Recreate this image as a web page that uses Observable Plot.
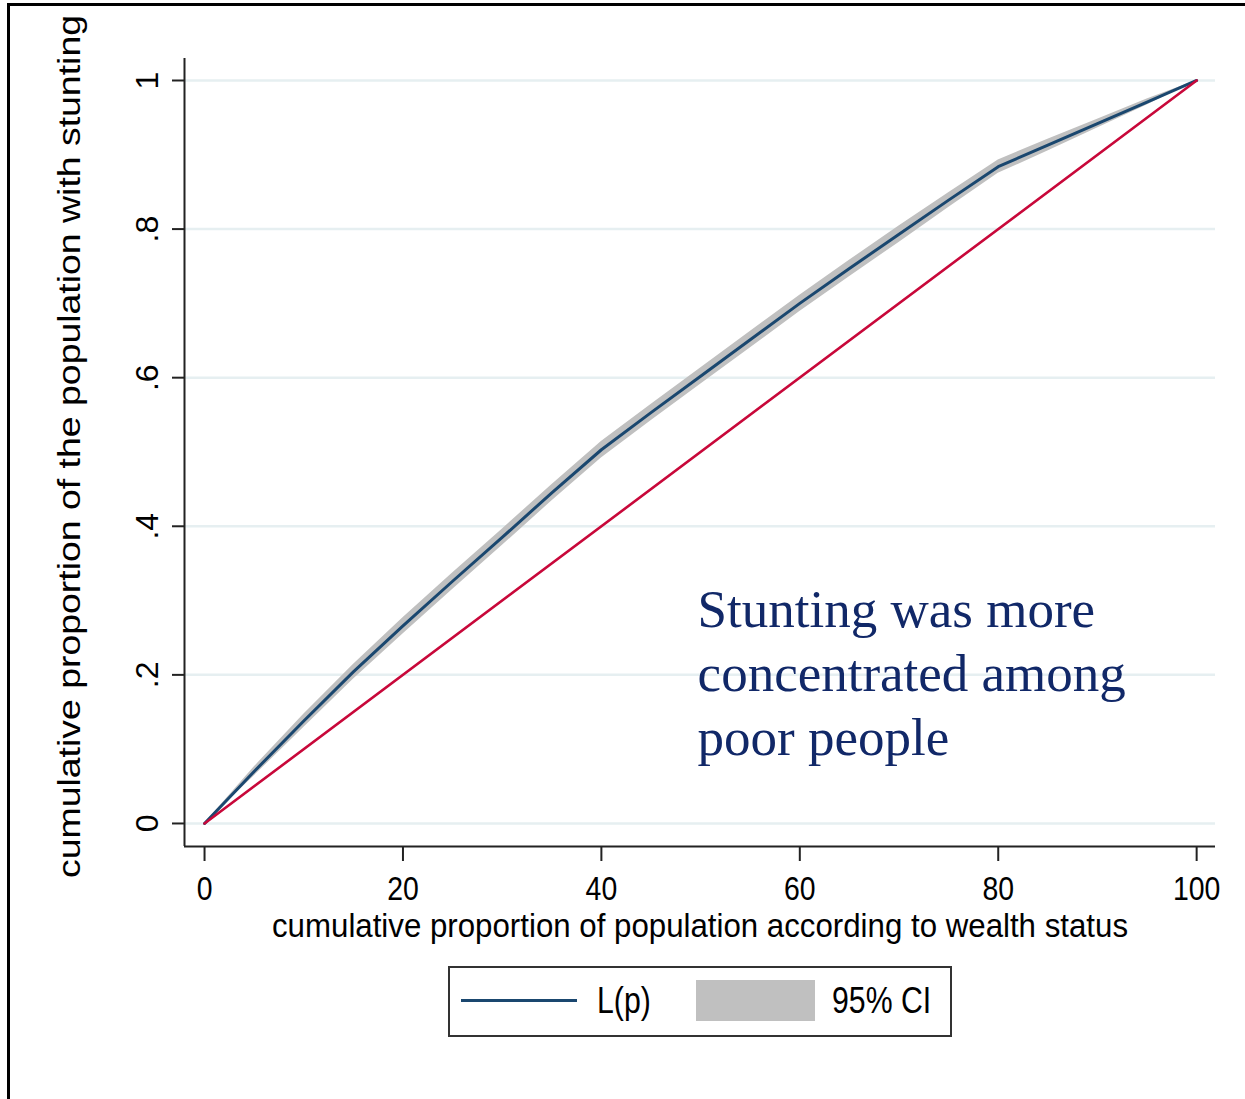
<!DOCTYPE html>
<html><head><meta charset="utf-8">
<script src="https://cdn.jsdelivr.net/npm/d3@7"></script>
<script src="https://cdn.jsdelivr.net/npm/@observablehq/plot@0.6"></script>
<style>
body{margin:0;background:#fff;}
#wrap{position:relative;width:1245px;height:1099px;overflow:hidden;background:#fff;}
#border{position:absolute;left:7px;top:3px;width:2000px;height:2000px;border-top:3.5px solid #000;border-left:3.5px solid #000;box-sizing:border-box;}
#chart{position:absolute;left:0;top:0;}
#legend{position:absolute;left:448px;top:966px;width:504px;height:71px;border:2px solid #333;box-sizing:border-box;font-family:"Liberation Sans",Arial,sans-serif;font-size:36px;line-height:36px;color:#000;background:#fff;}
#legend .sw-line{position:absolute;left:11px;top:31px;width:116px;height:3px;background:#1a476f;}
#legend .sw-area{position:absolute;left:246px;top:12px;width:119px;height:41px;background:#c0c0c0;}
#legend .lab{position:absolute;top:14.5px;white-space:nowrap;transform:scaleX(0.84);transform-origin:0 0;}
</style>
</head><body>
<div id="wrap">
  <div id="chart"></div>
  <div id="border"></div>
  <div id="legend">
    <div class="sw-line"></div><span class="lab" style="left:147px">L(p)</span>
    <div class="sw-area"></div><span class="lab" style="left:382px">95% CI</span>
  </div>
</div>
<script>
// ---- data ----
const p      = [0, 5, 10, 15, 20, 25, 30, 35, 40, 45, 50, 55, 60, 65, 70, 75, 80, 85, 90, 95, 100];
const Lp     = [0, 0.070, 0.138, 0.204, 0.266, 0.326, 0.385, 0.445, 0.503, 0.553, 0.602, 0.651, 0.700, 0.747, 0.793, 0.839, 0.884, 0.913, 0.942, 0.971, 1.0];
const ciLow  = [0, 0.064, 0.129, 0.194, 0.255, 0.315, 0.374, 0.434, 0.492, 0.542, 0.591, 0.640, 0.689, 0.736, 0.782, 0.829, 0.875, 0.905, 0.936, 0.967, 1.0];
const ciHigh = [0, 0.076, 0.147, 0.214, 0.277, 0.337, 0.396, 0.456, 0.514, 0.564, 0.613, 0.662, 0.711, 0.758, 0.804, 0.849, 0.893, 0.921, 0.948, 0.975, 1.0];
const eqX = [0, 100];
const eqY = [0, 1];
const xTicks = [0, 20, 40, 60, 80, 100];
const yTicks = [0, 0.2, 0.4, 0.6, 0.8, 1];
const yTickLabels = ["0", ".2", ".4", ".6", ".8", "1"];
const xTitle = "cumulative proportion of population according to wealth status";
const yTitle = "cumulative proportion of the population with stunting";
const note = {x: 49.7, y: 0.326, text: "Stunting was more\nconcentrated among\npoor people"};
const xDomain = [-2.02, 101.9];
const yDomain = [-0.031, 1.0296];

const curve = p.map((v, i) => ({p: v, L: Lp[i], lo: ciLow[i], hi: ciHigh[i]}));
const eq = eqX.map((v, i) => ({x: v, y: eqY[i]}));

const navy = "#1a476f", red = "#c8083a", axisCol = "#222";
const sans = "'Liberation Sans', Arial, sans-serif";

const chart = Plot.plot({
  width: 1245, height: 950,
  marginLeft: 184, marginRight: 30, marginTop: 58, marginBottom: 104,
  style: {fontFamily: sans, background: "transparent", overflow: "visible", color: "#000"},
  x: {domain: xDomain, label: null},
  y: {domain: yDomain, label: null},
  marks: [
    Plot.gridY(yTicks, {stroke: "#e6eff1", strokeOpacity: 1, strokeWidth: 2.5}),
    Plot.areaY(curve, {x: "p", y1: "lo", y2: "hi", fill: "#c0c0c0"}),
    Plot.line(curve, {x: "p", y: "L", stroke: navy, strokeWidth: 3}),
    Plot.line(eq, {x: "x", y: "y", stroke: red, strokeWidth: 2.6}),
    Plot.ruleX([xDomain[0]], {stroke: axisCol, strokeWidth: 2}),
    Plot.ruleY([yDomain[0]], {stroke: axisCol, strokeWidth: 2}),
    Plot.axisX(xTicks, {tickSize: 15, tickPadding: 15, stroke: axisCol, strokeWidth: 2, fontSize: 33, fill: "#000", label: null, tickFormat: d => String(d)}),
    Plot.axisY(yTicks, {tickSize: 12, stroke: axisCol, strokeWidth: 2, tickFormat: () => "", label: null}),
    Plot.text(yTicks, {y: d => d, text: (d, i) => yTickLabels[i], frameAnchor: "left", dx: -36.5, rotate: -90, textAnchor: "middle", lineAnchor: "middle", fontSize: 32, fill: "#000"}),
    Plot.text([xTitle], {text: d => d, frameAnchor: "bottom", dy: 67, lineAnchor: "top", textAnchor: "middle", fontSize: 33, fill: "#000"}),
    Plot.text([yTitle], {text: d => d, frameAnchor: "left", dx: -114, dy: -6, rotate: -90, lineAnchor: "middle", textAnchor: "middle", fontSize: 31, fill: "#000"}),
    Plot.text([note], {x: "x", y: "y", text: "text", textAnchor: "start", lineAnchor: "top", lineHeight: 1.21, fontSize: 53, fontFamily: "'Liberation Serif','Times New Roman',serif", fill: "#112868"})
  ]
});
document.getElementById("chart").appendChild(chart);

// emulate the horizontally condensed Stata text
const xLabelSet = new Set(xTicks.map(String));
chart.querySelectorAll("text").forEach(t => {
  const s = t.textContent;
  const rotated = (t.getAttribute("transform") || "").includes("rotate") ||
                  (t.parentNode.getAttribute && (t.parentNode.getAttribute("transform") || "").includes("rotate"));
  if (s === xTitle) {
    t.setAttribute("textLength", 856); t.setAttribute("lengthAdjust", "spacingAndGlyphs");
  } else if (s === yTitle) {
    t.setAttribute("textLength", 863); t.setAttribute("lengthAdjust", "spacingAndGlyphs");
  } else if (xLabelSet.has(s) && !rotated) {
    const w = t.getComputedTextLength();
    t.setAttribute("textLength", (w * 0.86).toFixed(1)); t.setAttribute("lengthAdjust", "spacingAndGlyphs");
  }
});
</script>
</body></html>
